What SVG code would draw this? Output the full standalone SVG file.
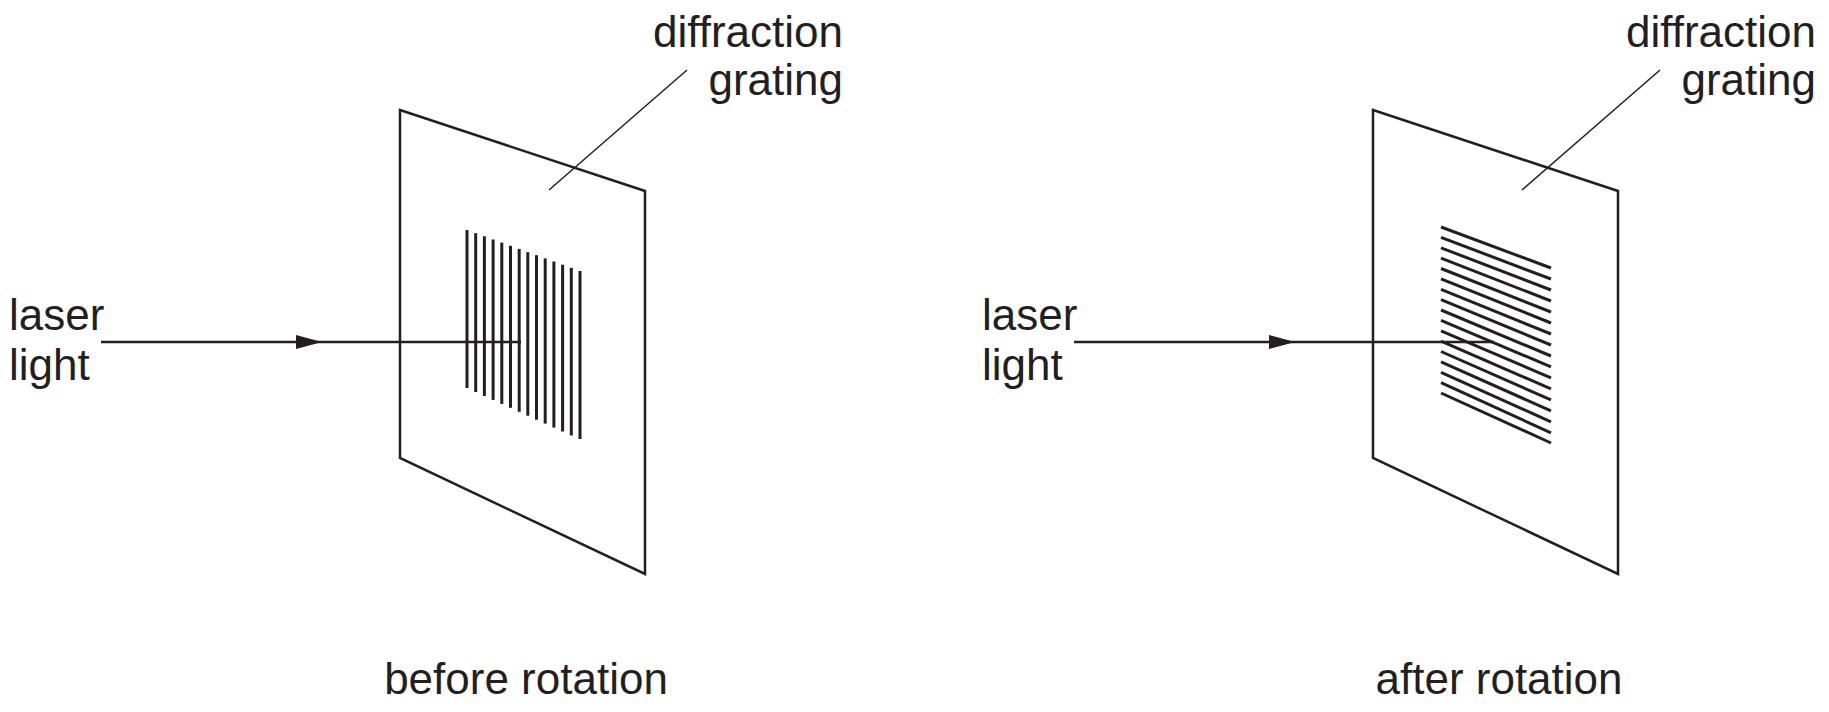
<svg xmlns="http://www.w3.org/2000/svg" width="1829" height="712" viewBox="0 0 1829 712">
<style>
text{font-family:"Liberation Sans",Arial,sans-serif;font-size:44px;fill:#231f20}
.q{fill:none;stroke:#231f20;stroke-width:2.5}
.g{stroke:#231f20;stroke-width:3}
.l{stroke:#231f20;stroke-width:1.5}
.a{stroke:#231f20;stroke-width:2.5}
</style>
<defs>
<marker id="ah" markerWidth="26" markerHeight="14" refX="13" refY="7" orient="auto" markerUnits="userSpaceOnUse"><path d="M0,0 L26,7 L0,14 Z" fill="#231f20"/></marker>
</defs>
<g id="before">
<polygon class="q" points="400,110 645,191 645,574 400,458"/>
<g id="grating1">
<line class="g" x1="467" y1="230" x2="467" y2="388"/><line class="g" x1="475.7" y1="233.2" x2="475.7" y2="392"/><line class="g" x1="484.4" y1="236.3" x2="484.4" y2="396"/><line class="g" x1="493.1" y1="239.5" x2="493.1" y2="399.9"/><line class="g" x1="501.8" y1="242.6" x2="501.8" y2="403.9"/><line class="g" x1="510.5" y1="245.8" x2="510.5" y2="407.8"/><line class="g" x1="519.2" y1="248.9" x2="519.2" y2="411.8"/><line class="g" x1="527.8" y1="252.1" x2="527.8" y2="415.7"/><line class="g" x1="536.5" y1="255.2" x2="536.5" y2="419.7"/><line class="g" x1="545.2" y1="258.4" x2="545.2" y2="423.6"/><line class="g" x1="553.9" y1="261.5" x2="553.9" y2="427.6"/><line class="g" x1="562.6" y1="264.7" x2="562.6" y2="431.5"/><line class="g" x1="571.3" y1="267.8" x2="571.3" y2="435.5"/><line class="g" x1="580" y1="271" x2="580" y2="439"/>
</g>
<text x="843" y="47" text-anchor="end">diffraction</text>
<text x="843" y="95" text-anchor="end">grating</text>
<text x="9" y="330">laser</text>
<text x="9" y="380">light</text>
<text x="526" y="694" text-anchor="middle">before rotation</text>
</g>
<g id="after">
<polygon class="q" points="1373,110 1618,191 1618,574 1373,458"/>
<g id="grating2">
<line class="g" x1="1441" y1="227" x2="1551" y2="268"/><line class="g" x1="1441" y1="237.4" x2="1551" y2="279"/><line class="g" x1="1441" y1="247.8" x2="1551" y2="290"/><line class="g" x1="1441" y1="258.1" x2="1551" y2="301"/><line class="g" x1="1441" y1="268.5" x2="1551" y2="312"/><line class="g" x1="1441" y1="278.9" x2="1551" y2="323"/><line class="g" x1="1441" y1="289.3" x2="1551" y2="334"/><line class="g" x1="1441" y1="299.6" x2="1551" y2="345"/><line class="g" x1="1441" y1="310" x2="1551" y2="356"/><line class="g" x1="1441" y1="320.4" x2="1551" y2="366.9"/><line class="g" x1="1441" y1="330.8" x2="1551" y2="377.9"/><line class="g" x1="1441" y1="341.1" x2="1551" y2="388.9"/><line class="g" x1="1441" y1="351.5" x2="1551" y2="399.9"/><line class="g" x1="1441" y1="361.9" x2="1551" y2="410.9"/><line class="g" x1="1441" y1="372.3" x2="1551" y2="421.9"/><line class="g" x1="1441" y1="382.6" x2="1551" y2="432.9"/><line class="g" x1="1441" y1="393" x2="1551" y2="443"/>
</g>
<text x="1816" y="47" text-anchor="end">diffraction</text>
<text x="1816" y="95" text-anchor="end">grating</text>
<text x="982" y="330">laser</text>
<text x="982" y="380">light</text>
<text x="1499" y="694" text-anchor="middle">after rotation</text>
</g>
<g id="connectors">
<line class="l" x1="687" y1="70" x2="549" y2="190"/>
<line class="l" x1="1660" y1="70" x2="1522" y2="190"/>
<polyline class="a" points="101,342 309,342 521,342" marker-mid="url(#ah)"/>
<polyline class="a" points="1074,342 1282,342 1494,342" marker-mid="url(#ah)"/>
</g>
</svg>
